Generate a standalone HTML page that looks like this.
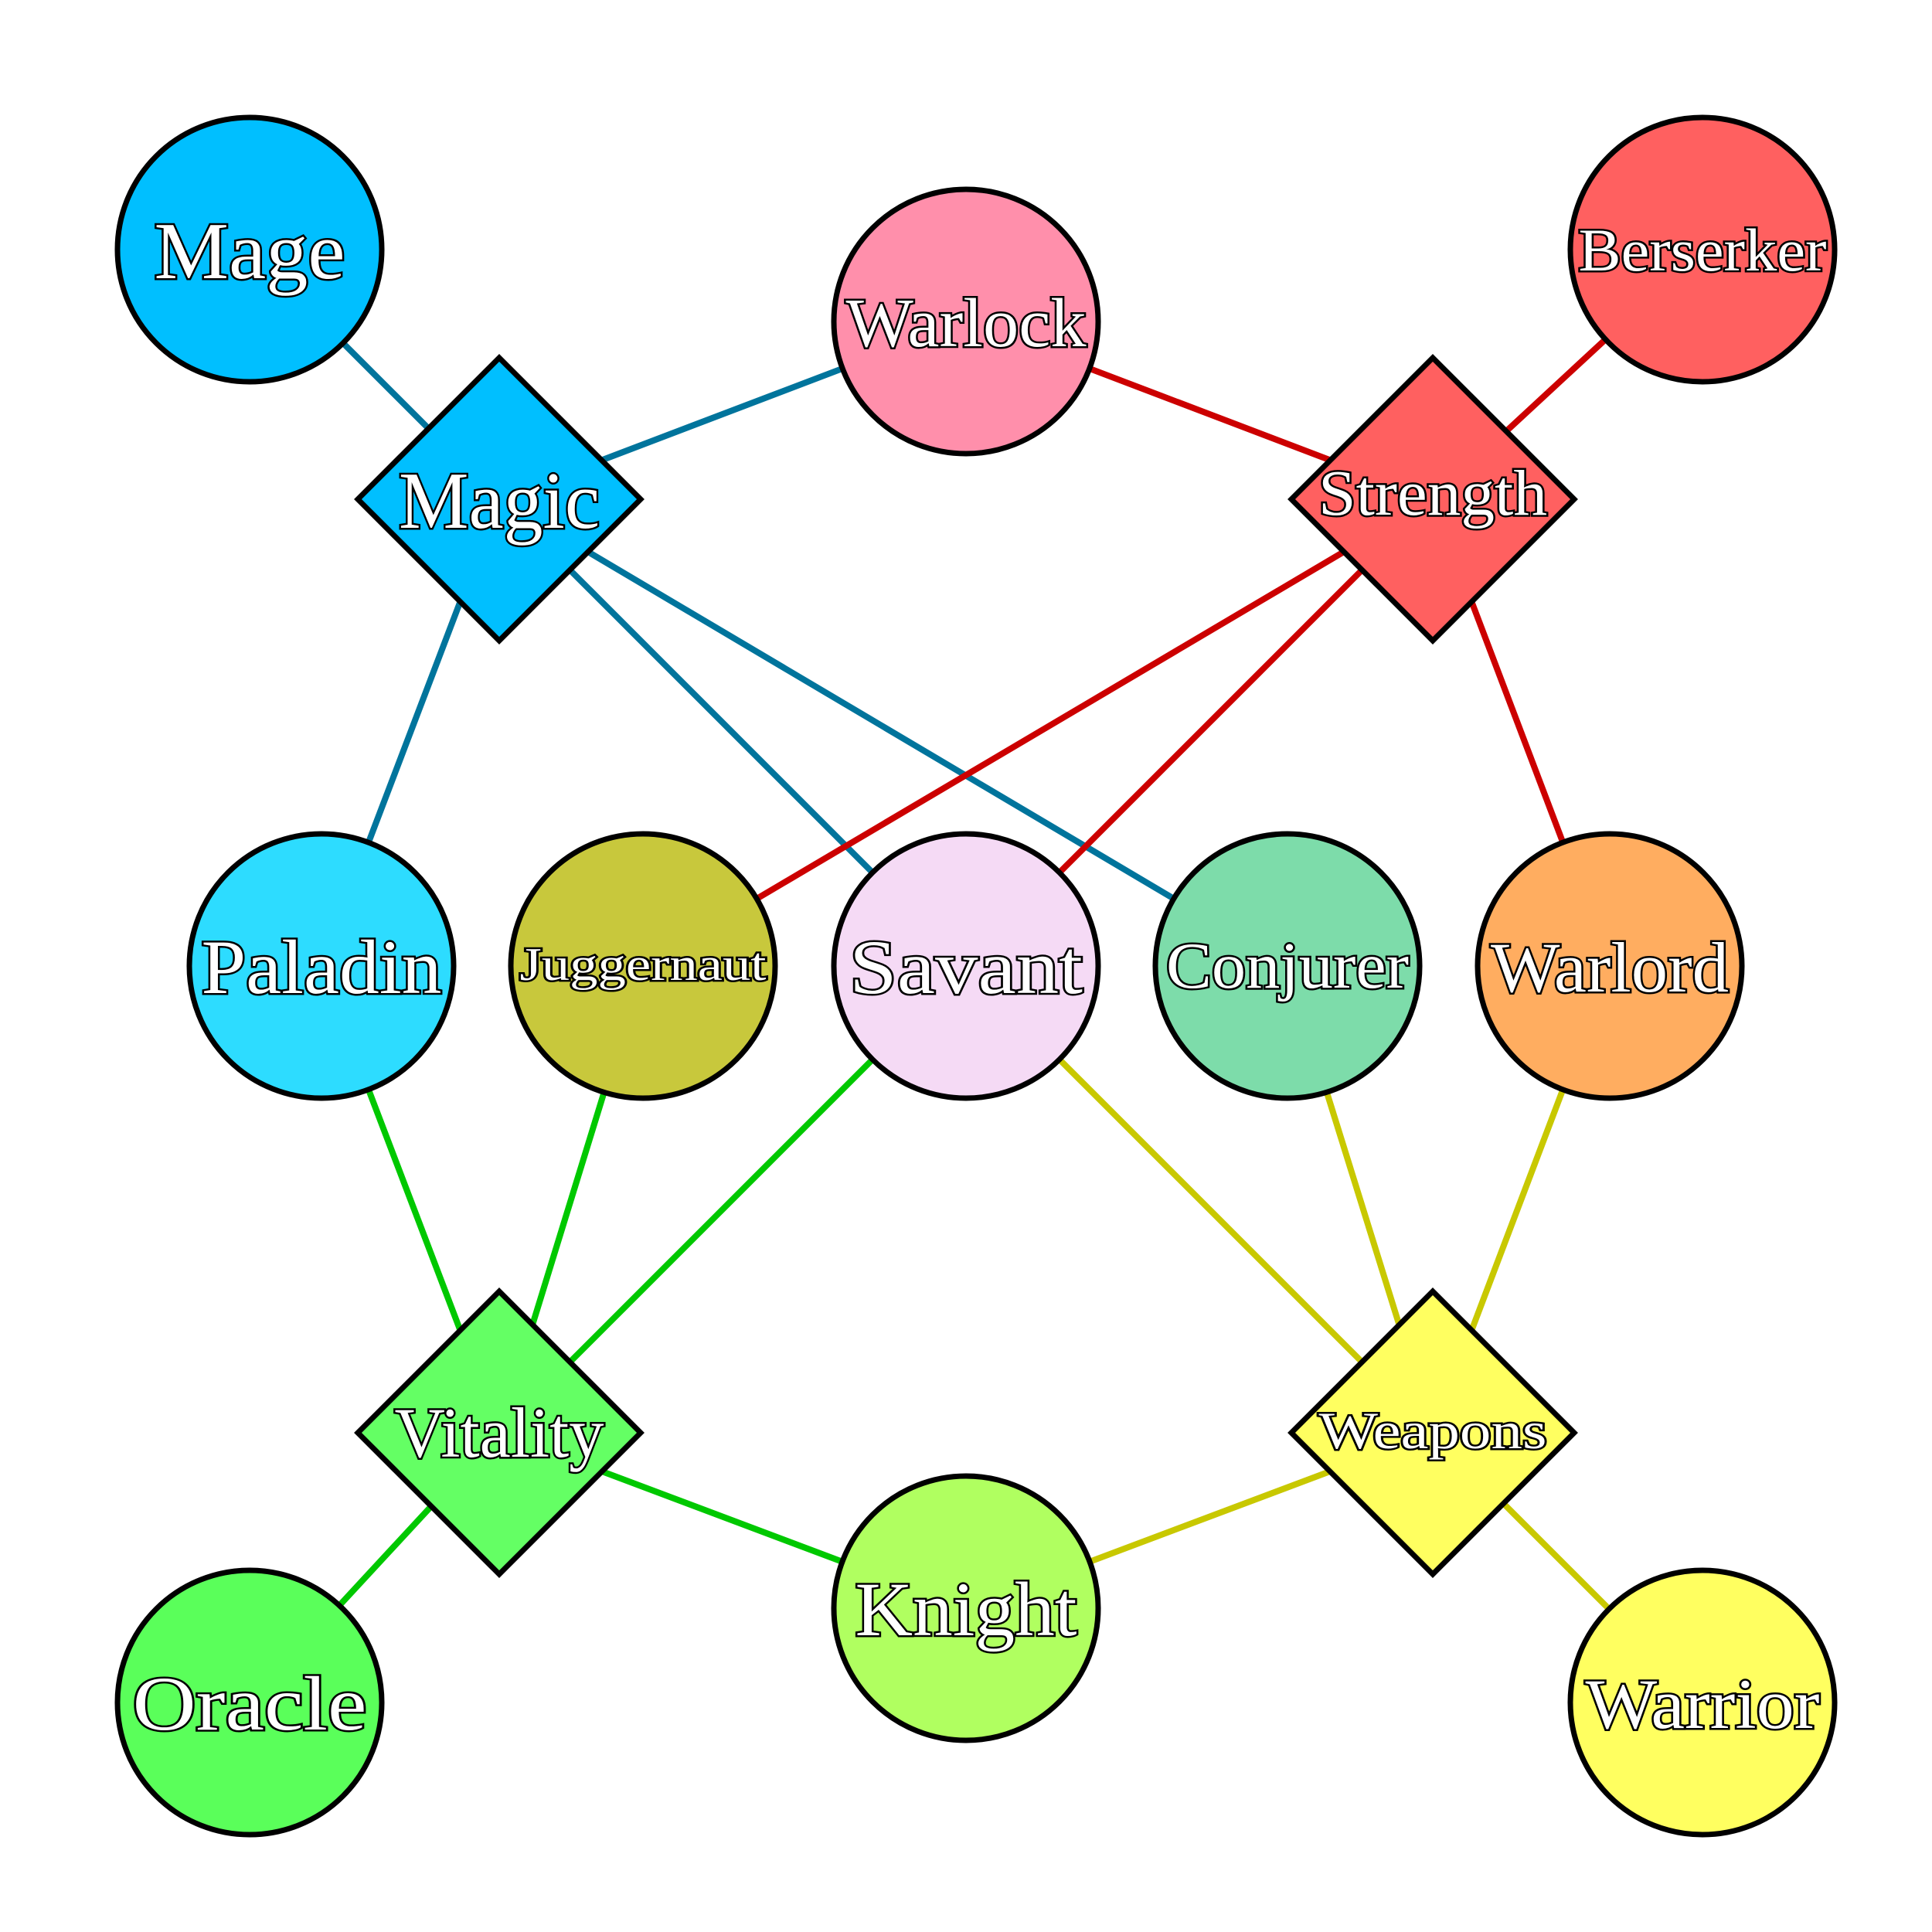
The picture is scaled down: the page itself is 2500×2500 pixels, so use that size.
<!DOCTYPE html>
<html><head><meta charset="utf-8"><style>html,body{margin:0;padding:0;background:#fff}svg{display:block}</style></head>
<body>
<svg width="2500" height="2500" viewBox="0 0 2500 2500" xmlns="http://www.w3.org/2000/svg">
<g stroke-width="8" fill="none">
<g stroke="#00749c">
<line x1="646" y1="646" x2="323" y2="323"/>
<line x1="646" y1="646" x2="1250" y2="416"/>
<line x1="646" y1="646" x2="416" y2="1250"/>
<line x1="646" y1="646" x2="1250" y2="1250"/>
<line x1="646" y1="646" x2="1666" y2="1250"/>
</g>
<g stroke="#cc0000">
<line x1="1854" y1="646" x2="1250" y2="416"/>
<line x1="1854" y1="646" x2="2203" y2="323"/>
<line x1="1854" y1="646" x2="832" y2="1250"/>
<line x1="1854" y1="646" x2="1250" y2="1250"/>
<line x1="1854" y1="646" x2="2083" y2="1250"/>
</g>
<g stroke="#00c800">
<line x1="646" y1="1854" x2="416" y2="1250"/>
<line x1="646" y1="1854" x2="832" y2="1250"/>
<line x1="646" y1="1854" x2="1250" y2="1250"/>
<line x1="646" y1="1854" x2="323" y2="2203"/>
<line x1="646" y1="1854" x2="1250" y2="2081"/>
</g>
<g stroke="#c8c800">
<line x1="1854" y1="1854" x2="1250" y2="1250"/>
<line x1="1854" y1="1854" x2="1666" y2="1250"/>
<line x1="1854" y1="1854" x2="2083" y2="1250"/>
<line x1="1854" y1="1854" x2="1250" y2="2081"/>
<line x1="1854" y1="1854" x2="2203" y2="2203"/>
</g>
</g>
<g stroke="#000" stroke-width="7">
<circle cx="323" cy="323" r="171" fill="#00bfff"/>
<circle cx="1250" cy="416" r="171" fill="#ff8fab"/>
<circle cx="2203" cy="323" r="171" fill="#ff6060"/>
<polygon points="646,463 829,646 646,829 463,646" fill="#00bfff"/>
<polygon points="1854,463 2037,646 1854,829 1671,646" fill="#ff6060"/>
<circle cx="416" cy="1250" r="171" fill="#2ddcff"/>
<circle cx="832" cy="1250" r="171" fill="#c8c83c"/>
<circle cx="1250" cy="1250" r="171" fill="#f5daf5"/>
<circle cx="1666" cy="1250" r="171" fill="#7ddcaa"/>
<circle cx="2083" cy="1250" r="171" fill="#ffad60"/>
<polygon points="646,1671 829,1854 646,2037 463,1854" fill="#64ff64"/>
<polygon points="1854,1671 2037,1854 1854,2037 1671,1854" fill="#ffff60"/>
<circle cx="323" cy="2203" r="171" fill="#5aff5a"/>
<circle cx="1250" cy="2081" r="171" fill="#b0ff60"/>
<circle cx="2203" cy="2203" r="171" fill="#ffff60"/>
</g>
<g font-family="'Liberation Serif', 'DejaVu Serif', serif" fill="#fff" stroke="#000" stroke-width="5" paint-order="stroke" text-anchor="middle">
<text x="323" y="360" font-size="105" textLength="247" lengthAdjust="spacingAndGlyphs">Mage</text>
<text x="1250" y="448" font-size="90" textLength="311" lengthAdjust="spacingAndGlyphs">Warlock</text>
<text x="2203" y="350" font-size="78" textLength="321" lengthAdjust="spacingAndGlyphs">Berserker</text>
<text x="646" y="683" font-size="105" textLength="260" lengthAdjust="spacingAndGlyphs">Magic</text>
<text x="1854" y="666" font-size="84" textLength="296" lengthAdjust="spacingAndGlyphs">Strength</text>
<text x="416" y="1285" font-size="100" textLength="311" lengthAdjust="spacingAndGlyphs">Paladin</text>
<text x="832" y="1268" font-size="60" textLength="319" lengthAdjust="spacingAndGlyphs">Juggernaut</text>
<text x="1250" y="1285" font-size="100" textLength="302" lengthAdjust="spacingAndGlyphs">Savant</text>
<text x="1666" y="1278" font-size="85" textLength="314" lengthAdjust="spacingAndGlyphs">Conjurer</text>
<text x="2083" y="1283" font-size="92" textLength="308" lengthAdjust="spacingAndGlyphs">Warlord</text>
<text x="646" y="1885" font-size="92" textLength="271" lengthAdjust="spacingAndGlyphs">Vitality</text>
<text x="1854" y="1874" font-size="68" textLength="295" lengthAdjust="spacingAndGlyphs">Weapons</text>
<text x="323" y="2238" font-size="100" textLength="303" lengthAdjust="spacingAndGlyphs">Oracle</text>
<text x="1250" y="2116" font-size="100" textLength="287" lengthAdjust="spacingAndGlyphs">Knight</text>
<text x="2203" y="2236" font-size="92" textLength="303" lengthAdjust="spacingAndGlyphs">Warrior</text>
</g>
</svg>
</body></html>
